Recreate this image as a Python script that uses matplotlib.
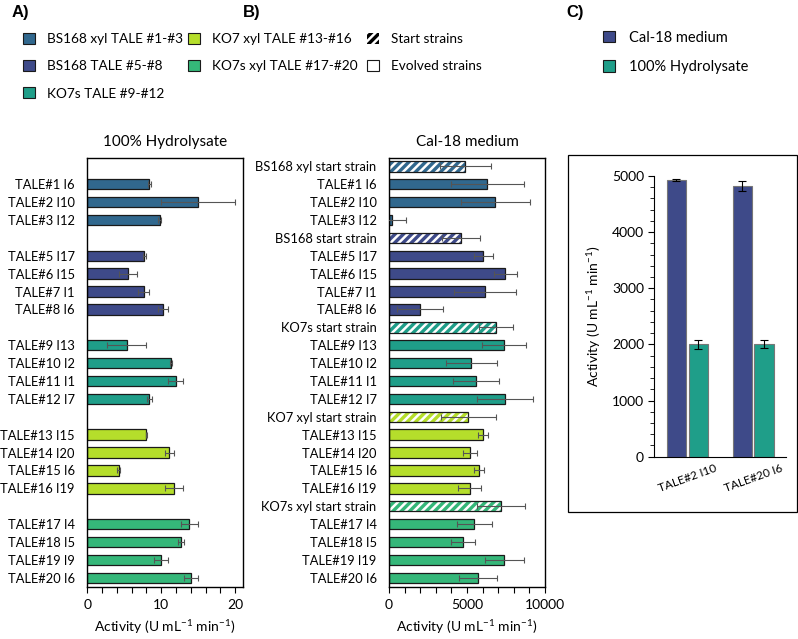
import numpy as np
import matplotlib
matplotlib.use("Agg")
import matplotlib.pyplot as plt
from matplotlib.patches import Patch, Rectangle
from matplotlib.ticker import MultipleLocator

plt.rcParams['font.family'] = ['Lato', 'DejaVu Sans']
plt.rcParams['mathtext.fontset'] = 'custom'
plt.rcParams['mathtext.rm'] = 'Lato'
plt.rcParams['mathtext.default'] = 'regular'
plt.rcParams['hatch.linewidth'] = 1.8

# legend groups
group_names = ["BS168 xyl TALE #1-#3", "BS168 TALE #5-#8", "KO7s TALE #9-#12",
               "KO7 xyl TALE #13-#16", "KO7s xyl TALE #17-#20"]
group_colors = ["#31688e", "#3e4a89", "#1f9e89", "#b5de2b", "#35b779"]

# rows of panel B (panel A uses the same rows, start strains left empty)
rows_b = ["BS168 xyl start strain", "TALE#1 I6", "TALE#2 I10", "TALE#3 I12",
          "BS168 start strain", "TALE#5 I17", "TALE#6 I15", "TALE#7 I1", "TALE#8 I6",
          "KO7s start strain", "TALE#9 I13", "TALE#10 I2", "TALE#11 I1", "TALE#12 I7",
          "KO7 xyl start strain", "TALE#13 I15", "TALE#14 I20", "TALE#15 I6", "TALE#16 I19",
          "KO7s xyl start strain", "TALE#17 I4", "TALE#18 I5", "TALE#19 I19", "TALE#20 I6"]
rows_a = ["", "TALE#1 I6", "TALE#2 I10", "TALE#3 I12",
          "", "TALE#5 I17", "TALE#6 I15", "TALE#7 I1", "TALE#8 I6",
          "", "TALE#9 I13", "TALE#10 I2", "TALE#11 I1", "TALE#12 I7",
          "", "TALE#13 I15", "TALE#14 I20", "TALE#15 I6", "TALE#16 I19",
          "", "TALE#17 I4", "TALE#18 I5", "TALE#19 I9", "TALE#20 I6"]
row_group = [0]*4 + [1]*5 + [2]*5 + [3]*5 + [4]*5

nan = np.nan
hydro_mean = [nan, 8.4, 15.0, 9.8, nan, 7.7, 5.45, 7.6, 10.2, nan, 5.3, 11.3, 11.95, 8.4,
              nan, 8.0, 11.1, 4.25, 11.7, nan, 13.8, 12.65, 9.95, 14.0]
hydro_err = [nan, 0.25, 5.0, 0.2, nan, 0.2, 1.2, 0.75, 0.7, nan, 2.6, 0.1, 1.0, 0.35,
             nan, 0.1, 0.65, 0.2, 1.25, nan, 1.2, 0.4, 1.0, 0.9]

cal_mean = [4900, 6300, 6810, 210, 4620, 6050, 7450, 6150, 2000, 6850, 7370, 5280, 5580, 7410,
            5070, 6020, 5190, 5770, 5170, 7200, 5470, 4750, 7390, 5680]
cal_err = [1650, 2320, 2200, 870, 1210, 600, 740, 1980, 1490, 1090, 1400, 1660, 1450, 1800,
           1770, 300, 450, 320, 750, 1530, 1130, 790, 1250, 1210]

# panel C
sel_labels = ["TALE#2 I10", "TALE#20 I6"]
c_cal = [4930, 4825]
c_cal_err = [15, 85]
c_hyd = [2005, 2005]
c_hyd_err = [80, 70]

edge = "#1a1a1a"
ecol = "#555555"
fs = 10
xlab = "Activity (U mL$^{-1}$ min$^{-1}$)"

fig = plt.figure(figsize=(7.98, 6.39), dpi=100)
y = np.arange(len(rows_b))
colors = [group_colors[g] for g in row_group]
start = [r.endswith("start strain") for r in rows_b]


def style_hbar_axis(ax):
    ax.set_ylim(len(rows_b) - 0.5, -0.45)
    ax.set_yticks(y)
    ax.tick_params(axis='y', length=0, pad=9, labelsize=9.3)
    ax.tick_params(axis='x', which='both', direction='out', length=4, width=0.8, labelsize=fs, pad=5)
    for s in ax.spines.values():
        s.set_linewidth(1.0)
    ax.set_xlabel(xlab, fontsize=fs, labelpad=5)


# ---- panel A
axA = fig.add_axes([0.1094, 0.0818, 0.1947, 0.6705])
m = ~np.isnan(hydro_mean)
hm = np.array(hydro_mean)[m]
he = np.array(hydro_err)[m]
axA.barh(y[m], hm, height=0.58, color=np.array(colors)[m], edgecolor=edge, linewidth=0.9, zorder=2)
axA.errorbar(hm, y[m], xerr=he, fmt='none', ecolor=ecol, elinewidth=0.8, capsize=2.5, capthick=0.8, zorder=3)
axA.set_xlim(0, 21)
axA.xaxis.set_major_locator(MultipleLocator(10))
axA.xaxis.set_minor_locator(MultipleLocator(2))
axA.set_yticklabels(rows_a)
style_hbar_axis(axA)
axA.set_title("100% Hydrolysate", fontsize=11, pad=9)

# ---- panel B
axB = fig.add_axes([0.4875, 0.0818, 0.1955, 0.6705])
for i in range(len(rows_b)):
    if start[i]:
        axB.barh(i, cal_mean[i], height=0.58, color=colors[i], edgecolor='white', linewidth=0,
                 hatch='////', zorder=2)
        axB.barh(i, cal_mean[i], height=0.58, fill=False, edgecolor=edge, linewidth=0.9, zorder=2)
    else:
        axB.barh(i, cal_mean[i], height=0.58, color=colors[i], edgecolor=edge, linewidth=0.9, zorder=2)
axB.errorbar(cal_mean, y, xerr=cal_err, fmt='none', ecolor=ecol, elinewidth=0.8, capsize=2.5,
             capthick=0.8, zorder=3)
axB.set_xlim(0, 10000)
axB.xaxis.set_major_locator(MultipleLocator(5000))
axB.xaxis.set_minor_locator(MultipleLocator(1000))
axB.set_yticklabels(rows_b)
style_hbar_axis(axB)
axB.set_title("Cal-18 medium", fontsize=11, pad=9)

# ---- panel C
axC = fig.add_axes([0.820, 0.2853, 0.165, 0.4393])
xc = np.arange(len(sel_labels))
w = 0.29
axC.bar(xc - 0.165, c_cal, width=w, color="#3e4a89", edgecolor="#777777", linewidth=0.8,
        yerr=c_cal_err, error_kw=dict(ecolor='black', elinewidth=0.8, capsize=3, capthick=0.8))
axC.bar(xc + 0.165, c_hyd, width=w, color="#1f9e89", edgecolor="#777777", linewidth=0.8,
        yerr=c_hyd_err, error_kw=dict(ecolor='black', elinewidth=0.8, capsize=3, capthick=0.8))
axC.set_xlim(-0.5, 1.5)
axC.set_ylim(0, 5000)
axC.yaxis.set_major_locator(MultipleLocator(1000))
axC.yaxis.set_minor_locator(MultipleLocator(200))
axC.set_xticks(xc)
axC.set_xticklabels(sel_labels, rotation=20, ha='center', fontsize=8.5)
axC.tick_params(axis='x', length=0, pad=4)
axC.tick_params(axis='y', which='major', length=4, labelsize=fs)
axC.tick_params(axis='y', which='minor', length=3)
axC.spines['top'].set_visible(False)
axC.spines['right'].set_visible(False)
axC.set_ylabel(xlab, fontsize=fs, labelpad=6)

fig.add_artist(Rectangle((568 / 798, 1 - 512 / 639), (797 - 568) / 798, (512 - 155) / 639,
                         transform=fig.transFigure, fill=False, edgecolor='black', linewidth=0.9))

# ---- legends, one per column
handles = [Patch(facecolor=c, edgecolor=edge, linewidth=0.8) for c in group_colors]
handles += [Patch(facecolor='black', edgecolor='white', hatch='////', linewidth=0),
            Patch(facecolor='white', edgecolor=edge, linewidth=0.8)]
labels = group_names + ["Start strains", "Evolved strains"]
leg_kw = dict(loc='upper left', frameon=False, fontsize=9.8, handlelength=0.85, handleheight=0.85,
              handletextpad=0.9, labelspacing=1.1, borderpad=0, borderaxespad=0)
cols = [(0, 3, 23), (3, 5, 188), (5, 7, 367)]
for a, b, px in cols:
    lg = fig.legend(handles[a:b], labels[a:b], bbox_to_anchor=(px / 798, 0.948), **leg_kw)

hc = [Patch(facecolor="#3e4a89", edgecolor=edge, linewidth=0.8),
      Patch(facecolor="#1f9e89", edgecolor=edge, linewidth=0.8)]
fig.legend(hc, ["Cal-18 medium", "100% Hydrolysate"], bbox_to_anchor=(603 / 798, 0.952),
           **dict(leg_kw, fontsize=10.5, handletextpad=0.9, labelspacing=1.05))

for txt, px in [("A)", 12), ("B)", 243), ("C)", 566)]:
    fig.text(px / 798, 1 - 12 / 639, txt, fontsize=12, fontweight='bold', va='center',
             family=['Liberation Sans', 'DejaVu Sans'])

fig.savefig("out.png", dpi=100)
